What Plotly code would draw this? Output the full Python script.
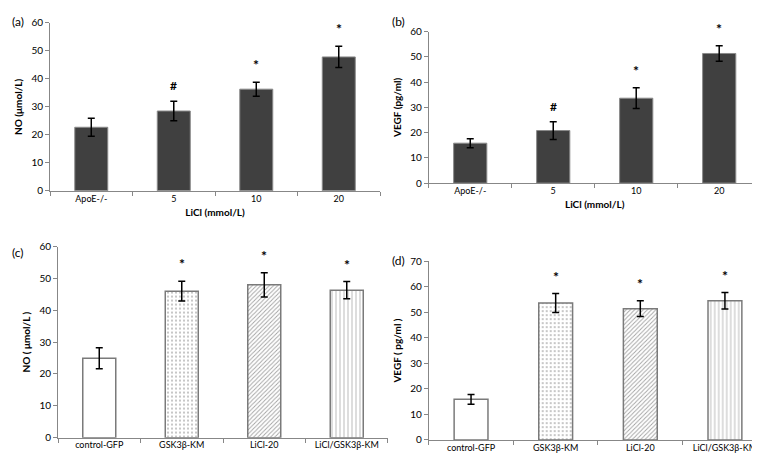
import plotly.graph_objects as go

# ---- data ----
cats_top = ["ApoE-/-", "5", "10", "20"]
no_a = [22.7, 28.5, 36.3, 47.8]
no_a_err = [3.2, 3.5, 2.5, 3.8]
no_a_marks = ["", "#", "*", "*"]

vegf_b = [15.8, 20.8, 33.6, 51.3]
vegf_b_err = [1.8, 3.5, 4.1, 3.1]
vegf_b_marks = ["", "#", "*", "*"]

cats_bot = ["control-GFP", "GSK3β-KM", "LiCl-20", "LiCl/GSK3β-KM"]
no_c = [24.9, 46.0, 48.0, 46.3]
no_c_err = [3.3, 3.1, 3.8, 2.7]
no_c_marks = ["", "*", "*", "*"]

vegf_d = [15.9, 53.6, 51.4, 54.5]
vegf_d_err = [1.9, 3.7, 3.1, 3.2]
vegf_d_marks = ["", "*", "*", "*"]

FONT = "Lato"
AXC = "#878787"
fig = go.Figure()

def add_panel(idx, cats, vals, errs, marks, patterned):
    xa = "x" if idx == 1 else f"x{idx}"
    ya = "y" if idx == 1 else f"y{idx}"
    if patterned:
        shapes = ["", ".", "/", "|"]
        sizes = [5, 4, 3, 4]
        sol = [0.2, 0.2, 0.3, 0.25]
        fg = ["#777777", "#6a6a6a", "#444444", "#777777"]
        marker = dict(color="white", line=dict(color="#7a7a7a", width=1.5),
                      pattern=dict(shape=shapes, fgcolor=fg, bgcolor="white",
                                   size=sizes, solidity=sol, fillmode="overlay"))
    else:
        marker = dict(color="#404040", line=dict(color="#8a8a8a", width=1))
    fig.add_trace(go.Bar(x=cats, y=vals, xaxis=xa, yaxis=ya, marker=marker, width=0.4,
                         error_y=dict(type="data", array=errs, color="black", thickness=1.5, width=3.5),
                         showlegend=False))
    for i, (v, e, m) in enumerate(zip(vals, errs, marks)):
        if m:
            fig.add_annotation(x=i, y=v + e, xref=xa, yref=ya, text=f"<b>{m}</b>", showarrow=False,
                               yanchor="bottom", yshift=6 if m == "#" else 7,
                               font=dict(family=FONT, size=12 if m == "#" else 14, color="black"))

add_panel(1, cats_top, no_a, no_a_err, no_a_marks, False)
add_panel(2, cats_top, vegf_b, vegf_b_err, vegf_b_marks, False)
add_panel(3, cats_bot, no_c, no_c_err, no_c_marks, True)
add_panel(4, cats_bot, vegf_d, vegf_d_err, vegf_d_marks, True)

xtickf = dict(family=FONT, size=9, color="black")
ytickf = dict(family=FONT, size=10, color="black")
titf = dict(family=FONT, size=10, color="black", weight="bold")

def xax(dom, anchor, title=None):
    d = dict(domain=dom, anchor=anchor, type="category", showline=True, linecolor=AXC, linewidth=1,
             ticks="outside", tickson="boundaries", ticklen=4, tickcolor=AXC, tickangle=0,
             ticklabelstandoff=-1,
             tickfont=xtickf, showgrid=False, zeroline=False)
    if title:
        d["title"] = dict(text=title, font=titf, standoff=6)
    return d

def yax(dom, anchor, rng, dtick, title):
    return dict(domain=dom, anchor=anchor, range=rng, dtick=dtick, showline=True,
                linecolor=AXC, linewidth=1, ticks="outside", ticklen=4, tickcolor=AXC,
                tickfont=ytickf, showgrid=False, zeroline=False,
                title=dict(text=title, font=titf, standoff=6))

fig.update_layout(
    width=760, height=459, margin=dict(l=0, r=0, t=0, b=0),
    plot_bgcolor="white", paper_bgcolor="white", bargap=0.6,
    xaxis=xax([0.0553, 0.4895], "y", "LiCl (mmol/L)"),
    yaxis=yax([0.6057, 0.9826], "x", [0, 60], 10, "NO (μmol/L)"),
    xaxis2=xax([0.5536, 0.9904], "y2", "LiCl (mmol/L)"),
    yaxis2=yax([0.6231, 0.9630], "x2", [0, 60], 10, "VEGF (pg/ml)"),
    xaxis3=xax([0.0658, 0.5], "y3"),
    yaxis3=yax([0.0523, 0.4808], "x3", [0, 60], 10, "NO ( μmol/L )"),
    xaxis4=xax([0.5536, 0.999], "y4"),
    yaxis4=yax([0.0473, 0.4481], "x4", [0, 70], 10, "VEGF ( pg/ml )"),
)

for txt, px, py in [("(a)", 2, 7), ("(b)", 382, 7), ("(c)", 2, 244), ("(d)", 382, 253)]:
    fig.add_annotation(x=px / 760, y=1 - py / 459, xref="paper", yref="paper", text=txt,
                       showarrow=False, xanchor="left", yanchor="middle",
                       font=dict(family=FONT, size=12, color="black"))

fig.write_html("out.html")
